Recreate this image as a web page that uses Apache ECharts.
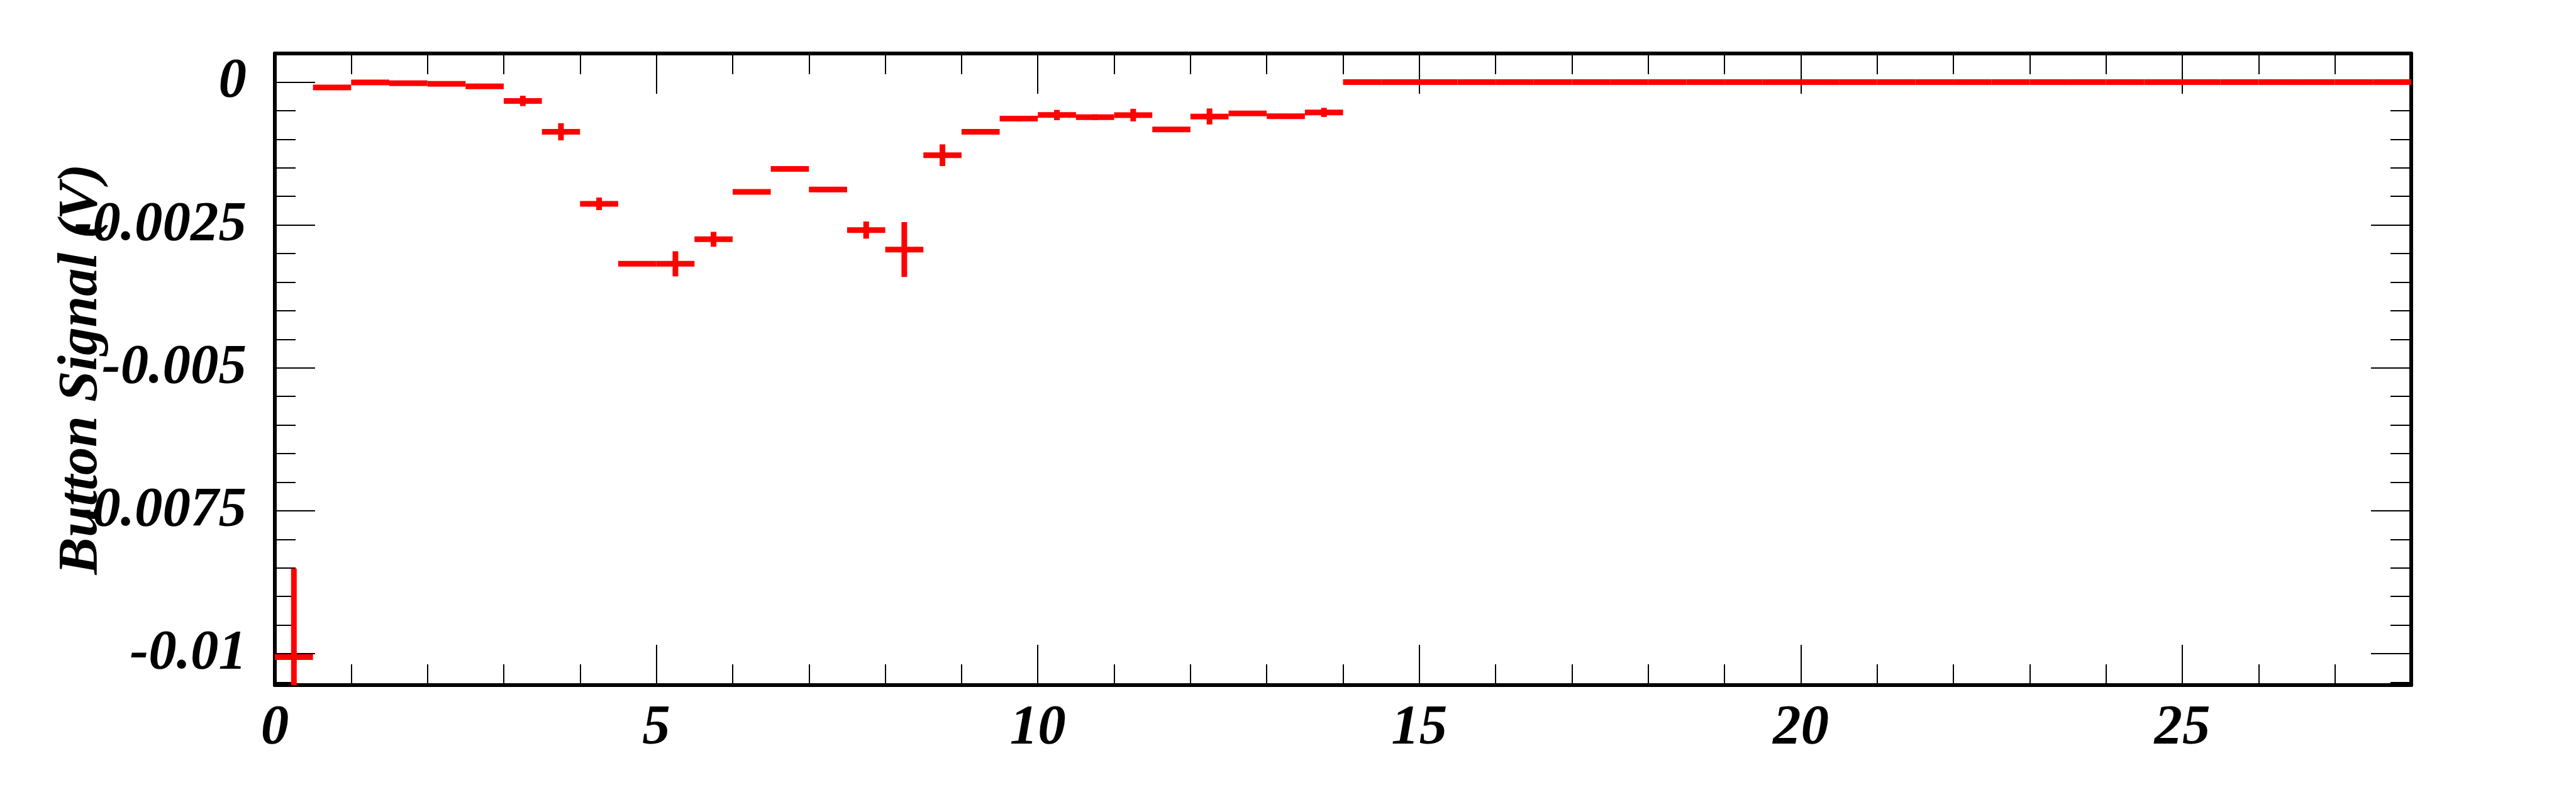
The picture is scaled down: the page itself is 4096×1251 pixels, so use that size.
<!DOCTYPE html>
<html>
<head>
<meta charset="utf-8">
<title>Button Signal</title>
<script src="https://cdn.jsdelivr.net/npm/echarts@6/dist/echarts.min.js"></script>
<style>
  html, body { margin: 0; padding: 0; background: #fff; }
  #main { width: 4096px; height: 1251px; }
</style>
</head>
<body>
<div id="main"></div>
<script>
// histogram: 56 bins of 0.5 starting at 0
var xStart = 0;
var binWidth = 0.5;

// bin contents (V)
var binValues = [
    -0.01006, -0.000094, -0.000006, -0.00002, -0.00003, -0.000076, -0.00033, -0.00087,
    -0.00213, -0.00318, -0.00318, -0.00275, -0.00192, -0.00152, -0.00188, -0.00259,
    -0.00293, -0.00128, -0.00087, -0.00064, -0.000577, -0.000615, -0.000578, -0.00083,
    -0.000602, -0.000548, -0.000598, -0.000531,
    0, 0, 0, 0, 0, 0, 0, 0, 0, 0, 0, 0, 0, 0,
    0, 0, 0, 0, 0, 0, 0, 0, 0, 0, 0, 0, 0, 0
];

// bin errors (V)
var binErrors = [
    0.00155, 0.00002, 0.00002, 0.00002, 0.00002, 0.00002, 0.00009, 0.00015,
    0.00011, 0.00003, 0.00022, 0.00013, 0.00003, 0.00003, 0.00003, 0.00015,
    0.00048, 0.00019, 0.00004, 0.00005, 0.00009, 0.00005, 0.00011, 0.00003,
    0.00014, 0.00004, 0.00003, 0.00008,
    0, 0, 0, 0, 0, 0, 0, 0, 0, 0, 0, 0, 0, 0,
    0, 0, 0, 0, 0, 0, 0, 0, 0, 0, 0, 0, 0, 0
];

var xMajorTicks = [0, 5, 10, 15, 20, 25];
var xMinorTicks = [1, 2, 3, 4, 6, 7, 8, 9, 11, 12, 13, 14, 16, 17, 18, 19, 21, 22, 23, 24, 26, 27];
var yMajorTicks = [-0.01, -0.0075, -0.005, -0.0025, 0];
var yTickLabels = ['-0.01', '-0.0075', '-0.005', '-0.0025', '0'];
var yMinorTicks = [-0.0105, -0.0095, -0.009, -0.0085, -0.008, -0.007, -0.0065, -0.006, -0.0055,
    -0.0045, -0.004, -0.0035, -0.003, -0.002, -0.0015, -0.001, -0.0005];

var xRange = [0, 28];
var yRange = [-0.01055, 0.0005];

var seriesData = [];
for (var i = 0; i < binValues.length; i++) {
    var lo = xStart + i * binWidth;
    seriesData.push([lo, lo + binWidth, binValues[i], binErrors[i]]);
}

var fontBase = {
    fontFamily: 'Liberation Serif',
    fontWeight: 'bold',
    fontStyle: 'italic',
    fontSize: 89,
    color: '#000'
};

function frameAxis(pos, min, max, ticks, len, isMain, labelOpt) {
    return {
        type: 'value',
        position: pos,
        min: min,
        max: max,
        axisLine: { show: isMain, onZero: false, lineStyle: { color: '#000', width: 6 } },
        axisTick: { show: true, inside: true, length: len, customValues: ticks,
            lineStyle: { color: '#000', width: 2 } },
        axisLabel: labelOpt || { show: false },
        splitLine: { show: false }
    };
}

var xLabel = Object.assign({
    show: true, margin: 25, lineHeight: 89, customValues: xMajorTicks,
    formatter: function (v) { return String(v); }
}, fontBase);

var yLabel = Object.assign({
    show: true, margin: 45, lineHeight: 89, customValues: yMajorTicks,
    formatter: function (v) {
        for (var k = 0; k < yMajorTicks.length; k++) {
            if (Math.abs(yMajorTicks[k] - v) < 1e-9) return yTickLabels[k];
        }
        return '';
    }
}, fontBase);

var yMain = frameAxis('left', yRange[0], yRange[1], yMajorTicks, 64, true, yLabel);
yMain.name = 'Button Signal (V)';
yMain.nameLocation = 'middle';
yMain.nameRotate = 90;
yMain.nameGap = 262;
yMain.nameMoveOverlap = false;
yMain.nameTextStyle = Object.assign({ lineHeight: 89 }, fontBase);

var myChart = echarts.init(document.getElementById('main'));

option = {
    backgroundColor: '#fff',
    animation: false,
    grid: {
        left: 437,
        right: 262,
        top: 85,
        bottom: 162
    },
    xAxis: [
        frameAxis('bottom', xRange[0], xRange[1], xMajorTicks, 64, true, xLabel),
        frameAxis('bottom', xRange[0], xRange[1], xMinorTicks, 33, false),
        frameAxis('top', xRange[0], xRange[1], xMajorTicks, 64, true),
        frameAxis('top', xRange[0], xRange[1], xMinorTicks, 33, false)
    ],
    yAxis: [
        yMain,
        frameAxis('left', yRange[0], yRange[1], yMinorTicks, 33, false),
        frameAxis('right', yRange[0], yRange[1], yMajorTicks, 64, true),
        frameAxis('right', yRange[0], yRange[1], yMinorTicks, 33, false)
    ],
    series: [{
        type: 'custom',
        xAxisIndex: 0,
        yAxisIndex: 0,
        clip: true,
        encode: { x: [0, 1], y: 2 },
        data: seriesData,
        renderItem: function (params, api) {
            var lo = api.value(0), hi = api.value(1), v = api.value(2), e = api.value(3);
            var mid = (lo + hi) / 2;
            var a = api.coord([lo, v]);
            var b = api.coord([hi, v]);
            var c = api.coord([mid, v + e]);
            var d = api.coord([mid, v - e]);
            var st = { stroke: '#ff0000', lineWidth: 9, lineCap: 'butt' };
            return {
                type: 'group',
                children: [
                    { type: 'line', shape: { x1: a[0], y1: a[1], x2: b[0], y2: b[1] }, style: st },
                    { type: 'line', shape: { x1: c[0], y1: c[1], x2: d[0], y2: d[1] }, style: st }
                ]
            };
        }
    }]
};

myChart.setOption(option);
window.onresize = myChart.resize;
</script>
</body>
</html>
